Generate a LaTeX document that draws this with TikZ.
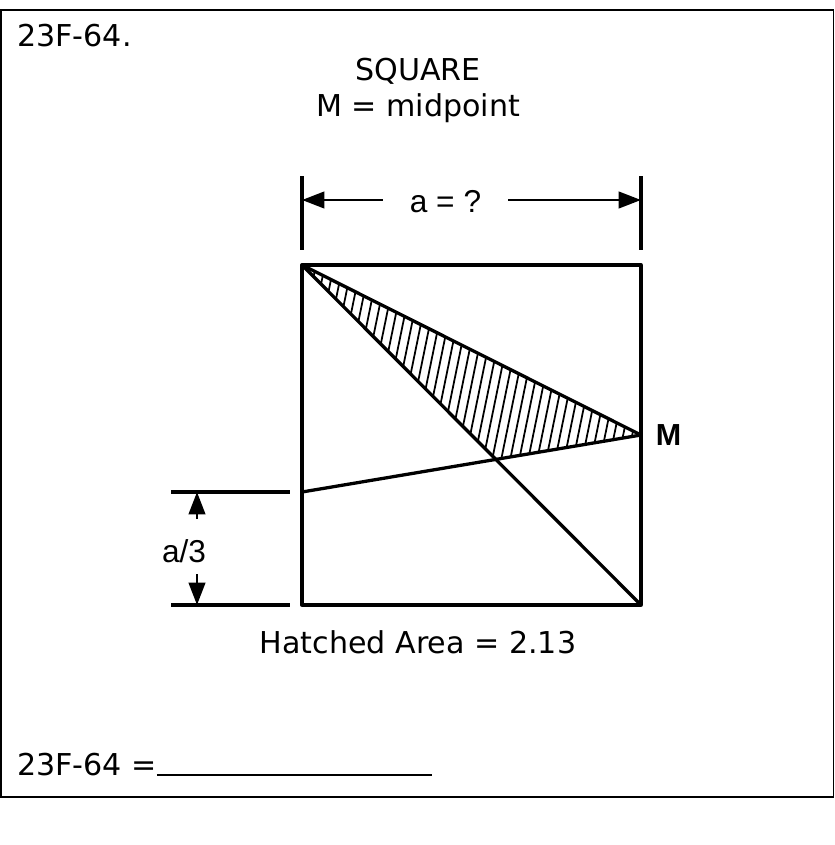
\documentclass[tikz,border=0pt]{standalone}
\usepackage{fontspec}
\setmainfont{DejaVu Sans}
\newfontfamily\dimfont{Liberation Sans}
\usetikzlibrary{arrows.meta}

\begin{document}
\begin{tikzpicture}[x=0.03cm,y=-0.03cm,
  txt/.style={font=\fontsize{25.7pt}{31pt}\selectfont,anchor=base,inner sep=0pt},
  lbl/.style={font=\dimfont\fontsize{27pt}{31pt}\selectfont,inner sep=0pt},
  edge/.style={line width=2.8pt,line join=round},
  dimtip/.style={line width=2.3pt,-{Triangle[length=19pt,width=14pt]}},
  hatch/.style={line width=1.5pt}]
\useasboundingbox (0,0) rectangle (834,845);
\draw[line width=0.9pt] (1,10) rectangle (833.5,797);
% texts
\node[txt,anchor=base west] (num) at (17,47) {23F-64.};
\node[txt] (sq) at (418,81) {SQUARE};
\node[txt] (mid) at (418,117) {M = midpoint};
\node[txt] (area) at (418,653) {Hatched Area = 2.13};
\node[txt,anchor=base west] (ans) at (17,775) {23F-64 =\rule[-1pt]{235pt}{1.6pt}};
% square
\coordinate (tl) at (302,265); \coordinate (tr) at (641,265);
\coordinate (bl) at (302,605); \coordinate (br) at (641,605);
\coordinate (M) at (641,435); \coordinate (t3) at (302,492);
\coordinate (X) at (intersection of tl--br and M--t3);
% hatching
\begin{scope}
\clip (tl) -- (M) -- (X) -- cycle;
\foreach \x in {300,309,...,700} \draw[hatch] (\x,255) -- (\x-45,475);
\end{scope}
\draw[edge] (tl) -- (tr) -- (br) -- (bl) -- cycle;
\draw[edge] (tl) -- (br); \draw[edge] (tl) -- (M); \draw[edge] (M) -- (t3);
\node[lbl,font=\dimfont\bfseries\fontsize{26pt}{30pt}\selectfont] (m) at (668.5,435) {M};
% dimension a
\coordinate (d1) at (302,176); \coordinate (d2) at (302,250);
\coordinate (d3) at (641,176); \coordinate (d4) at (641,250);
\draw[edge] (d1) -- (d2); \draw[edge] (d3) -- (d4);
\coordinate (al) at (302,200); \coordinate (ar) at (641,200);
\node[lbl,minimum width=3.75cm] (alab) at (445.5,202) {a = ?};
\draw[dimtip] (alab.west|-al) -- (al); \draw[dimtip] (alab.east|-ar) -- (ar);
% dimension a/3
\coordinate (e1) at (171,492); \coordinate (e2) at (290,492);
\coordinate (e3) at (171,605); \coordinate (e4) at (290,605);
\draw[edge] (e1) -- (e2); \draw[edge] (e3) -- (e4);
\coordinate (u0) at (197,519); \coordinate (u1) at (197,492);
\coordinate (v0) at (197,574); \coordinate (v1) at (197,605);
\draw[dimtip] (u0) -- (u1); \draw[dimtip] (v0) -- (v1);
\node[lbl] (third) at (184,551) {a/3};
\end{tikzpicture}
\end{document}
